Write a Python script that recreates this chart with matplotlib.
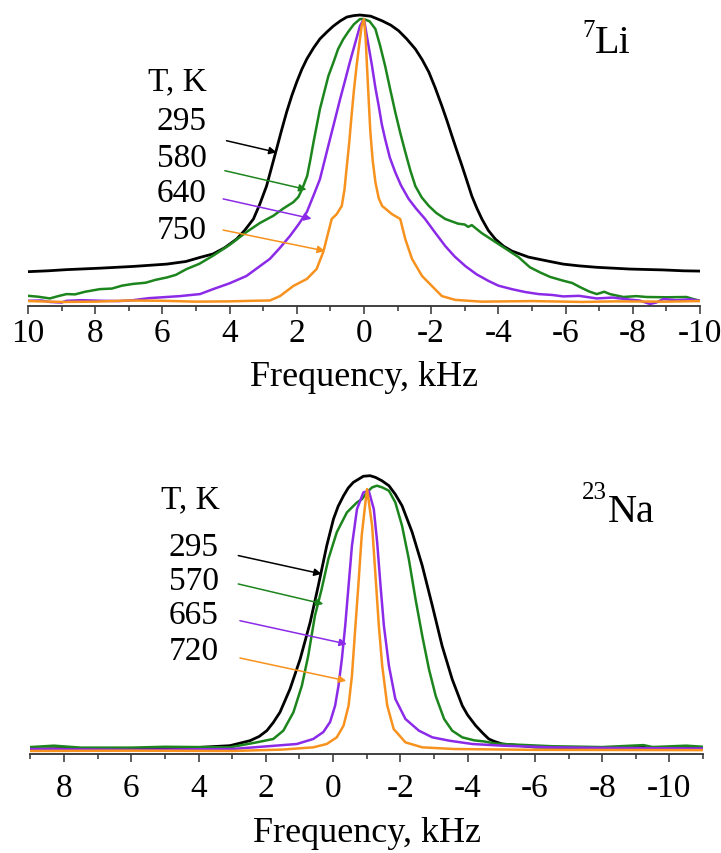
import numpy as np
import matplotlib
matplotlib.use("Agg")
import matplotlib.pyplot as plt
from matplotlib.ticker import MultipleLocator

plt.rcParams['font.family'] = ['Liberation Serif', 'DejaVu Serif']
plt.rcParams['axes.unicode_minus'] = False

# 7Li spectra (frequency in kHz, intensity in a.u.)
li_295_f = [10.0, 9.4, 8.85, 7.86, 6.87, 5.87, 5.3, 4.88, 4.49, 4.15, 3.79, 3.55, 3.29, 3.1, 2.9,
            2.75, 2.6, 2.45, 2.3, 2.15, 2.0, 1.85, 1.7, 1.5, 1.31, 1.1, 0.91, 0.7, 0.51, 0.3,
            0.12, -0.2, -0.54, -0.8, -1.03, -1.27, -1.53, -1.73, -1.93, -2.12, -2.32, -2.47,
            -2.62, -2.77, -2.92, -3.07, -3.21, -3.36, -3.51, -3.7, -3.91, -4.15, -4.4, -4.9,
            -5.45, -5.93, -6.4, -6.93, -7.92, -8.91, -9.5, -10.0]
li_295_i = [11.8, 12.1, 12.5, 13.0, 13.6, 14.4, 15.3, 16.7, 17.9, 20.0, 23.0, 26.0, 29.9, 35.0, 41.2,
            47.6, 54.0, 60.5, 66.7, 72.2, 77.0, 81.3, 84.9, 88.7, 91.8, 94.2, 96.2, 98.0, 99.3, 99.8,
            100.0, 99.6, 98.0, 96.5, 94.6, 91.8, 88.3, 84.7, 80.4, 75.0, 68.7, 63.7,
            58.4, 53.2, 48.1, 42.8, 37.8, 33.6, 29.9, 26.0, 23.0, 20.6, 18.9, 16.8,
            15.5, 14.4, 13.8, 13.3, 12.7, 12.4, 12.1, 12.0]

li_580_f = [10.0, 9.7, 9.35, 9.1, 8.85, 8.6, 8.3, 7.86, 7.5, 7.2, 6.87, 6.5, 6.2, 5.87, 5.6, 5.28,
            4.9, 4.49, 4.0, 3.5, 3.1, 2.7, 2.4, 2.1, 1.95, 1.84, 1.69, 1.6, 1.5, 1.31, 1.06, 0.9,
            0.77, 0.62, 0.47, 0.3, 0.12, 0.0, -0.17, -0.34, -0.48, -0.63, -0.78, -0.93, -1.08,
            -1.23, -1.38, -1.53, -1.72, -1.93, -2.15, -2.42, -2.8, -3.0, -3.1, -3.21, -3.5, -3.91,
            -4.6, -4.94, -5.25, -5.54, -5.93, -6.2, -6.43, -6.7, -6.93, -7.15, -7.32, -7.72,
            -8.1, -8.41, -9.0, -9.6, -9.8, -10.0]
li_580_i = [3.5, 3.2, 2.6, 3.4, 4.1, 4.0, 4.9, 5.8, 6.0, 7.0, 7.6, 8.0, 9.0, 9.8, 10.7, 12.7,
            14.5, 17.3, 21.0, 25.4, 28.5, 31.0, 33.5, 35.7, 37.5, 40.2, 44.7, 50.0, 56.4, 67.7, 79.0, 84.0,
            88.3, 91.6, 94.2, 96.8, 98.6, 98.6, 97.8, 95.2, 89.5, 82.5, 74.5, 66.7, 59.5,
            52.9, 46.6, 41.2, 37.3, 34.4, 32.0, 29.9, 28.3, 28.0, 27.2, 27.8, 25.1, 22.0,
            16.8, 13.3, 11.5, 10.0, 8.7, 7.9, 6.5, 5.0, 4.1, 4.9, 4.1, 3.1,
            3.4, 3.1, 3.0, 3.1, 2.4, 1.8]

li_640_f = [10.0, 9.6, 9.35, 9.0, 8.85, 8.4, 7.86, 7.3, 6.87, 6.4, 5.87, 5.48, 4.88, 4.49, 4.0,
            3.5, 2.8, 2.5, 2.2, 1.95, 1.7, 1.5, 1.31, 1.01, 0.86, 0.71, 0.56, 0.42, 0.27, 0.12,
            0.0, -0.12, -0.24, -0.34, -0.44, -0.53, -0.63, -0.77, -0.93, -1.1, -1.33, -1.55,
            -1.82, -2.1, -2.42, -2.7, -3.02, -3.35, -3.71, -4.0, -4.4, -4.8, -5.2, -5.6, -5.93,
            -6.4, -6.93, -7.4, -7.92, -8.2, -8.51, -8.7, -8.91, -9.3, -9.7, -10.0]
li_640_i = [1.8, 1.9, 1.4, 1.2, 1.8, 2.0, 1.8, 1.7, 2.0, 2.7, 3.1, 3.4, 4.1, 5.8, 7.8,
            10.3, 16.2, 20.0, 24.1, 28.0, 32.3, 38.0, 43.6, 57.4, 64.2, 71.1, 77.6, 83.8, 90.0, 96.2,
            98.6, 90.5, 82.5, 75.0, 68.7, 62.5, 57.4, 51.0, 46.0, 41.5, 36.8, 33.5,
            29.9, 25.5, 20.6, 17.0, 13.7, 10.9, 8.6, 7.0, 5.8, 4.8, 4.1, 3.8, 3.3,
            3.5, 2.6, 2.9, 2.2, 1.9, 0.7, 1.2, 2.4, 2.0, 2.3, 1.8]

li_750_f = [10.0, 9.0, 8.0, 7.0, 6.0, 5.0, 4.0, 3.3, 2.8, 2.5, 2.1, 1.7, 1.41, 1.21, 1.06, 0.96,
            0.81, 0.66, 0.58, 0.51, 0.44, 0.37, 0.3, 0.22, 0.15, 0.07, 0.0, -0.05, -0.09, -0.14,
            -0.19, -0.26, -0.34, -0.44, -0.54, -0.83, -1.08, -1.23, -1.43, -1.73, -2.02, -2.32,
            -2.72, -3.5, -5.0, -6.5, -7.5, -9.0, -10.0]
li_750_i = [1.7, 1.4, 1.5, 1.9, 1.8, 1.5, 1.6, 1.8, 1.9, 3.4, 6.9, 9.3, 12.7, 18.6, 25.4, 29.9,
            31.6, 34.4, 40.0, 48.1, 56.0, 65.3, 74.0, 82.5, 89.0, 96.2, 98.6, 92.0, 82.5, 71.0,
            59.8, 50.0, 42.6, 37.0, 34.4, 31.6, 29.9, 23.0, 16.2, 10.3, 6.9, 3.4,
            2.1, 1.5, 1.7, 1.4, 1.6, 1.5, 1.7]

# 23Na spectra
na_295_f = [9.0, 7.5, 6.0, 4.5, 3.96, 3.07, 2.47, 2.2, 1.97, 1.78, 1.58, 1.28, 0.98, 0.68, 0.44,
            0.19, -0.01, -0.15, -0.31, -0.45, -0.6, -0.9, -1.1, -1.26, -1.45, -1.66, -1.85, -2.05,
            -2.35, -2.65, -2.95, -3.24, -3.54, -3.84, -4.0, -4.24, -4.45, -4.63, -4.8, -5.03,
            -6.0, -8.0, -9.5, -11.0]
na_295_i = [1.8, 2.0, 1.8, 2.1, 2.4, 3.0, 4.8, 6.3, 8.4, 11.3, 15.0, 23.4, 34.1, 47.4, 60.5,
            74.8, 84.4, 89.0, 92.8, 95.6, 97.6, 99.8, 100.0, 99.4, 98.2, 96.4, 93.3, 89.2,
            79.7, 67.7, 53.3, 38.9, 26.9, 17.4, 14.0, 10.2, 7.5, 5.4, 4.5, 3.6,
            2.5, 2.2, 2.4, 2.2]

na_570_f = [9.0, 8.3, 7.5, 6.0, 5.0, 3.07, 2.27, 1.78, 1.48, 1.18, 0.93, 0.74, 0.54, 0.34, 0.14,
            -0.11, -0.41, -0.71, -0.86, -1.01, -1.16, -1.3, -1.46, -1.66, -1.85, -2.05, -2.25,
            -2.45, -2.65, -2.85, -3.05, -3.3, -3.54, -3.84, -4.0, -4.2, -4.5, -4.8, -5.03, -6.5,
            -8.0, -9.23, -9.5, -10.5, -11.0]
na_570_i = [2.5, 3.0, 2.3, 2.3, 2.6, 2.4, 4.2, 5.4, 8.4, 15.0, 24.5, 35.3, 49.7, 59.3, 70.1,
            79.7, 86.8, 90.4, 91.6, 94.1, 95.8, 96.4, 95.8, 94.6, 90.4, 82.0, 70.1,
            55.7, 42.5, 30.5, 20.9, 12.6, 8.4, 6.0, 5.5, 4.9, 4.5, 3.8, 3.6, 2.8,
            2.5, 3.2, 2.5, 3.0, 2.6]

na_665_f = [9.0, 6.0, 3.0, 1.08, 0.59, 0.29, 0.09, -0.06, -0.16, -0.26, -0.36, -0.46, -0.56, -0.71,
            -0.9, -1.06, -1.21, -1.31, -1.41, -1.51, -1.66, -1.85, -2.15, -2.55, -2.95, -3.45,
            -4.14, -5.03, -6.5, -8.0, -11.0]
na_665_i = [1.8, 1.5, 1.8, 3.6, 5.4, 7.9, 11.5, 17.4, 24.5, 34.1, 46.1, 60.5, 74.8, 88.0,
            94.0, 94.6, 88.0, 76.1, 60.5, 46.1, 31.7, 19.8, 12.6, 8.4, 6.0, 4.8,
            3.6, 3.0, 2.4, 2.2, 2.0]

na_720_f = [9.0, 6.0, 3.0, 1.5, 0.59, 0.19, -0.11, -0.31, -0.46, -0.56, -0.65, -0.75, -0.85, -0.95,
            -1.01, -1.16, -1.26, -1.36, -1.46, -1.61, -1.8, -2.15, -2.65, -3.6, -6.0, -11.0]
na_720_i = [1.1, 1.2, 1.1, 1.6, 2.4, 3.6, 6.0, 10.2, 17.4, 28.1, 43.7, 60.5, 78.4, 89.2,
            95.2, 82.0, 64.1, 46.1, 31.7, 17.4, 9.0, 4.2, 2.4, 1.8, 1.5, 1.4]

colors = ['black', '#1d851d', '#8b2be8', '#f7921e']
li_temps = ['295', '580', '640', '750']
na_temps = ['295', '570', '665', '720']

li_curves = [(li_295_f, li_295_i), (li_580_f, li_580_i), (li_640_f, li_640_i), (li_750_f, li_750_i)]
na_curves = [(na_295_f, na_295_i), (na_570_f, na_570_i), (na_665_f, na_665_i), (na_720_f, na_720_i)]

# arrow tails / tips for each temperature (data coordinates)
li_arrows = [((4.09, 56.8), (2.6, 52.8)), ((4.14, 46.5), (1.71, 40.0)),
             ((4.19, 36.8), (1.56, 30.0)), ((4.19, 26.1), (1.16, 18.9))]
na_arrows = [((2.82, 71.3), (0.34, 64.7)), ((2.82, 61.1), (0.29, 53.9)),
             ((2.77, 47.9), (-0.41, 39.5)), ((2.77, 34.5), (-0.39, 26.3))]

fig = plt.figure(figsize=(7.21, 8.54), dpi=100)
ax1 = fig.add_axes([0.0388, 0.6405, 0.932, 0.3578])
ax2 = fig.add_axes([0.0422, 0.1159, 0.9329, 0.3422])


def style_axis(ax, xlim, pad, labelpad):
    ax.set_xlim(*xlim)
    ax.set_ylim(0, 105)
    for s in ['left', 'right', 'top']:
        ax.spines[s].set_visible(False)
    ax.spines['bottom'].set_color('#333333')
    ax.spines['bottom'].set_linewidth(1.3)
    ax.set_yticks([])
    ax.xaxis.set_major_locator(MultipleLocator(2))
    ax.xaxis.set_minor_locator(MultipleLocator(1))
    ax.tick_params(axis='x', which='major', direction='out', length=6, width=1.1,
                   color='#333333', labelsize=24, pad=pad)
    ax.tick_params(axis='x', which='minor', direction='out', length=3.5, width=1.1,
                   color='#333333')
    ax.set_xlabel('Frequency, kHz', fontsize=26, labelpad=labelpad)


def draw_panel(ax, curves, temps, arrows, label_x, ty):
    for (f, i), c in zip(curves, colors):
        ax.plot(f, i, color=c, lw=2.0 if c == 'black' else 1.8, solid_joinstyle='round')
    ax.text(label_x[0], ty[0], 'T, K', fontsize=24, ha='center', va='center')
    for t, y, (tail, tip), c in zip(temps, ty[1:], arrows, colors):
        ax.text(label_x[1], y, t, fontsize=24, ha='center', va='center')
        ax.annotate('', xy=tip, xytext=tail,
                    arrowprops=dict(arrowstyle='-|>', color=c, lw=1.1,
                                    mutation_scale=11, shrinkA=0, shrinkB=0))


style_axis(ax1, (10, -10), 2, 9)
style_axis(ax2, (9, -11), 7, 10)

draw_panel(ax1, li_curves, li_temps, li_arrows, (5.54, 5.42), [77.3, 63.6, 50.9, 38.8, 26.1])
draw_panel(ax2, na_curves, na_temps, na_arrows, (4.23, 4.14), [91.6, 74.4, 62.2, 49.9, 37.0])

# nucleus labels
ax1.text(-6.875, 87.3, 'Li', fontsize=29, ha='left', va='baseline')
ax1.text(-6.51, 98.6, '7', fontsize=18, ha='left', va='top')
ax2.text(-8.18, 83.7, 'Na', fontsize=29, ha='left', va='baseline')
ax2.text(-7.40, 98.2, '23', fontsize=18, ha='left', va='top')

fig.savefig('out.png', dpi=100)
